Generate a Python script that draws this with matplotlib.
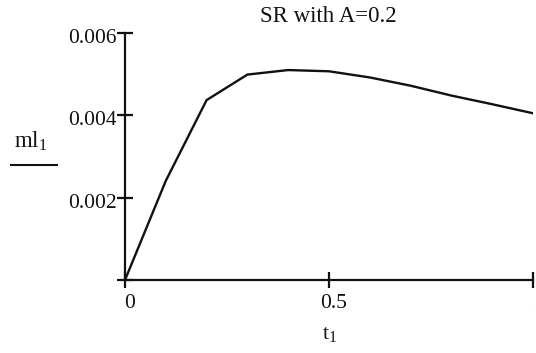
import matplotlib

matplotlib.use("Agg")

import matplotlib.pyplot as plt
import matplotlib.transforms as mtransforms
from matplotlib.lines import Line2D
from matplotlib.ticker import FixedLocator, FixedFormatter


t_values = [0.0, 0.1, 0.2, 0.3, 0.4, 0.5, 0.6, 0.7, 0.8, 0.9, 1.0]
ml_values = [0.0, 0.00241, 0.00437, 0.00499, 0.00510, 0.00507, 0.00492, 0.00472, 0.00448, 0.00427, 0.00405]

x_ticks = [0, 0.5, 1]
x_tick_labels = ["0", "0.5", "1"]
y_ticks = [0, 0.002, 0.004, 0.006]
y_tick_labels = ["", "0.002", "0.004", "0.006"]

TITLE = "SR with A=0.2"
INK = "#111111"

plt.rcParams["font.family"] = ["Liberation Serif", "DejaVu Serif"]
plt.rcParams["mathtext.fontset"] = "custom"
plt.rcParams["mathtext.rm"] = "Liberation Serif"
plt.rcParams["mathtext.it"] = "Liberation Serif"

fig = plt.figure(figsize=(5.36, 3.53), dpi=100)
ax = fig.add_axes([125 / 536, 73 / 353, 408 / 536, 247 / 353])

ax.plot(t_values, ml_values, color=INK, linewidth=1.7, solid_joinstyle="miter")

ax.set_xlim(0, 1)
ax.set_ylim(0, 0.006)

for side in ("top", "right"):
    ax.spines[side].set_visible(False)
for side in ("left", "bottom"):
    ax.spines[side].set_linewidth(1.6)
    ax.spines[side].set_color(INK)

ax.xaxis.set_major_locator(FixedLocator(x_ticks))
ax.xaxis.set_major_formatter(FixedFormatter(x_tick_labels))
ax.yaxis.set_major_locator(FixedLocator(y_ticks))
ax.yaxis.set_major_formatter(FixedFormatter(y_tick_labels))

ax.tick_params(axis="both", direction="inout", length=12, width=1.6, color=INK,
               labelsize=15.5, labelcolor=INK)
ax.tick_params(axis="x", pad=4)
ax.tick_params(axis="y", pad=0)

# nudge tick labels: x labels sit a little right of their ticks, y labels a little low
x_shift = mtransforms.ScaledTranslation(5 / 100, 0, fig.dpi_scale_trans)
y_shift = mtransforms.ScaledTranslation(0, -3 / 100, fig.dpi_scale_trans)
for label in ax.get_xticklabels():
    label.set_transform(label.get_transform() + x_shift)
for label in ax.get_yticklabels():
    label.set_transform(label.get_transform() + y_shift)

fig.text(328 / 536, 1 - 17 / 353, TITLE, ha="center", va="center", fontsize=16.5, color=INK)

# y label written as a fraction-like heading with a bar under it
fig.text(31 / 536, 1 - 141 / 353, r"$\mathrm{ml_1}$", ha="center", va="center", fontsize=16.5, color=INK)
fig.add_artist(Line2D([11 / 536, 57 / 536], [1 - 165 / 353, 1 - 165 / 353],
                      transform=fig.transFigure, color=INK, linewidth=1.5))

fig.text(330 / 536, 1 - 335 / 353, r"$\mathrm{t_1}$", ha="center", va="center", fontsize=16, color=INK)

fig.savefig("out.png", dpi=100, facecolor="white")
